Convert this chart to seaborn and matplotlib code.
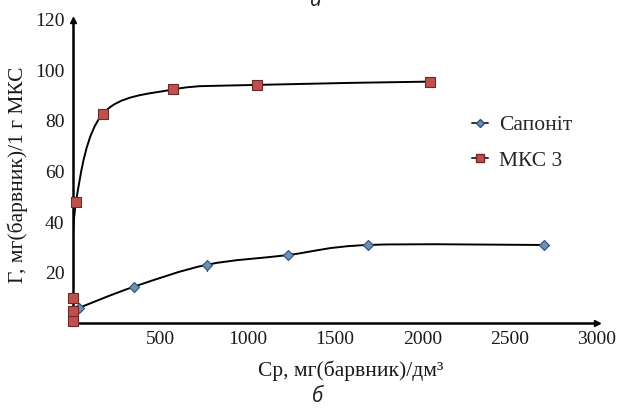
import numpy as np
import pandas as pd
import matplotlib
matplotlib.use("Agg")
import matplotlib.pyplot as plt
import seaborn as sns
from matplotlib.path import Path
from matplotlib.patches import PathPatch
from matplotlib.lines import Line2D

# Data
sap_x = [36, 352, 770, 1230, 1690, 2694]
sap_y = [6.0, 14.4, 23.1, 26.9, 30.9, 30.9]

mks_x = [0, 0, 0, 19, 172, 575, 1057, 2046]
mks_y = [0.8, 4.8, 9.8, 48.0, 82.8, 92.5, 94.3, 95.6]

labels = ["Сапоніт", "МКС 3"]
xticks = [500, 1000, 1500, 2000, 2500, 3000]
yticks = [20, 40, 60, 80, 100, 120]

sns.set_style("white")
plt.rcParams['font.family'] = ['Liberation Serif', 'DejaVu Serif']


def smooth_path(xs, ys):
    # Catmull-Rom style curve through the points (like Excel smoothed line)
    pts = np.column_stack([xs, ys]).astype(float)
    n = len(pts)
    verts = [pts[0]]
    codes = [Path.MOVETO]
    for i in range(n - 1):
        p0 = pts[i - 1] if i > 0 else pts[i]
        p1 = pts[i]
        p2 = pts[i + 1]
        p3 = pts[i + 2] if i + 2 < n else pts[i + 1]
        c1 = p1 + (p2 - p0) / 6.0
        c2 = p2 - (p3 - p1) / 6.0
        verts += [c1, c2, p2]
        codes += [Path.CURVE4] * 3
    return Path(verts, codes)


fig = plt.figure(figsize=(6.18, 4.08), dpi=100)
ax = fig.add_axes([0.1176, 0.2083, 0.8484, 0.7427])

ax.set_xlim(0, 3000)
ax.set_ylim(0, 120)

for xs, ys in [(sap_x, sap_y), (mks_x, mks_y)]:
    ax.add_patch(PathPatch(smooth_path(xs, ys), facecolor='none',
                           edgecolor='black', lw=1.4, zorder=2))

df_sap = pd.DataFrame({'x': sap_x, 'y': sap_y})
df_mks = pd.DataFrame({'x': mks_x, 'y': mks_y})

sns.scatterplot(data=df_sap, x='x', y='y', marker='D', s=26, color='#6f8fb8',
                edgecolor='#2f4f73', linewidth=0.8, ax=ax, zorder=3, clip_on=False)
sns.scatterplot(data=df_mks, x='x', y='y', marker='s', s=42, color='#c0504d',
                edgecolor='#6e2a28', linewidth=0.8, ax=ax, zorder=3, clip_on=False)

# small tick under the 770 point
ax.plot([770, 770], [20.5, 23.1], color='#2f4f73', lw=1, zorder=2)

for side in ['top', 'right']:
    ax.spines[side].set_visible(False)
for side in ['left', 'bottom']:
    ax.spines[side].set_color('black')
    ax.spines[side].set_linewidth(1.8)

# arrow heads on axes
ax.plot(1, 0, marker='>', color='black', ms=5, transform=ax.transAxes, clip_on=False)
ax.plot(0, 1, marker='^', color='black', ms=5, transform=ax.transAxes, clip_on=False)

ax.set_xticks(xticks)
ax.set_yticks(yticks)
ax.tick_params(axis='both', direction='out', length=4, width=1, color='black',
               labelsize=14, labelcolor='#1a1a1a', pad=2)

ax.set_xlabel("Ср, мг(барвник)/дм³", fontsize=15.5, color='#1a1a1a')
ax.xaxis.set_label_coords(0.53, -0.125)
ax.set_ylabel("Г, мг(барвник)/1 г МКС", fontsize=15.5, color='#1a1a1a')
ax.yaxis.set_label_coords(-0.085, 0.49)

handles = [
    Line2D([], [], color='#333333', lw=1.4, marker='D', ms=4,
           markerfacecolor='#6f8fb8', markeredgecolor='#2f4f73'),
    Line2D([], [], color='#333333', lw=1.4, marker='s', ms=6,
           markerfacecolor='#c0504d', markeredgecolor='#6e2a28'),
]
ax.legend(handles, labels, loc='upper left', frameon=False, fontsize=15.5,
          bbox_to_anchor=(472 / 618, 1 - 115 / 408), bbox_transform=fig.transFigure,
          borderpad=0, borderaxespad=0, handlelength=0.75, handletextpad=0.5,
          labelspacing=0.72)

fig.text(316 / 618, 1 - 1 / 408, "а", family=['Open Sans', 'DejaVu Sans'],
         style='italic', fontsize=15, ha='center', va='center', color='#222222')
fig.text(318 / 618, 1 - 397 / 408, "б", family=['Open Sans', 'DejaVu Sans'],
         style='italic', fontsize=15, ha='center', va='center', color='#222222')

fig.savefig("out.png", dpi=100)
